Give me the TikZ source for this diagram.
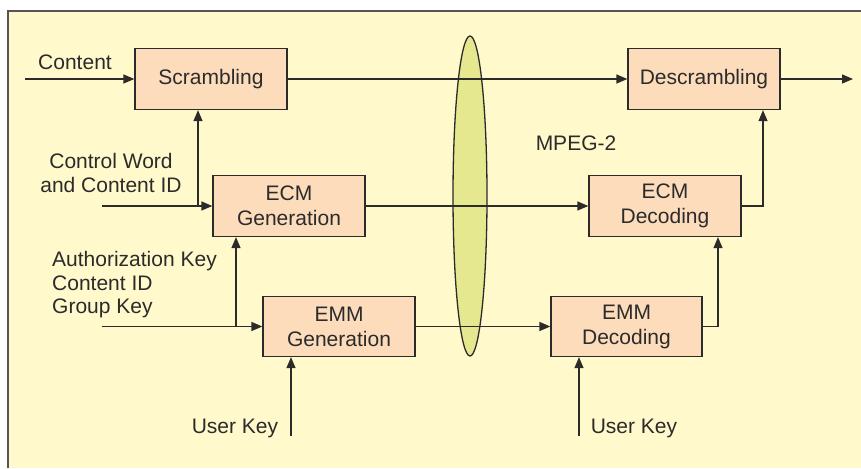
\documentclass[tikz,border=0pt]{standalone}
\usepackage{fontspec}
\setmainfont{Liberation Sans}
\usetikzlibrary{arrows.meta}
\definecolor{bgcol}{HTML}{FFF9CC}
\definecolor{boxcol}{HTML}{FDDCBC}
\definecolor{ellcol}{HTML}{E5E88E}
\definecolor{linecol}{HTML}{2B2B2B}
\definecolor{framecol}{HTML}{555555}
\tikzset{
  blockbox/.style={draw=linecol, line width=1.3pt, fill=boxcol, minimum width=152pt, minimum height=61pt, inner sep=0pt, align=center, font=\fontsize{21}{25}\selectfont, text=linecol},
  onebox/.style={blockbox, text height=15pt, text depth=4pt},
  lbl/.style={font=\fontsize{21}{23.5}\selectfont, text=linecol, inner sep=0pt},
  conn/.style={draw=linecol, line width=1.3pt},
  arr/.style={conn, -{Triangle[length=11pt,width=9pt]}},
}
\begin{document}
\begin{tikzpicture}[x=1pt,y=-1pt]
\useasboundingbox (0,0) rectangle (861,468);
\fill[white] (0,0) rectangle (861,468);
\fill[bgcol] (8,11) rectangle (861,468);
\draw[framecol, line width=2pt] (8,468) -- (8,11) -- (861,11);
% ellipse (MPEG-2 channel)
\draw[draw=linecol, line width=1.3pt, fill=ellcol] (470,196) ellipse [x radius=17, y radius=160];
% blocks
\node[onebox] (scr) at (211,79) {Scrambling};
\node[onebox] (des) at (704,79) {Descrambling};
\node[blockbox] (ecmg) at (289,206) {ECM\\Generation};
\node[blockbox] (ecmd) at (665,206) {ECM\\Decoding};
\node[blockbox, minimum height=60pt] (emmg) at (339,326.5) {EMM\\Generation};
\node[blockbox, minimum width=151pt, minimum height=60pt] (emmd) at (626.5,326.5) {EMM\\Decoding};
% labels
\node[lbl] (lcontent) at (75,62) {Content};
\node[lbl, align=center] (lcw) at (111,173) {Control Word\\and Content ID};
\node[lbl, align=left, anchor=west] (lak) at (52,285) {Authorization Key\\Content ID\\Group Key};
\node[lbl] (lmpeg) at (576,143) {MPEG-2};
\node[lbl] (luk1) at (235,428) {User Key};
\node[lbl] (luk2) at (634,428) {User Key};
% coordinates
\coordinate (cin) at (25,79);
\coordinate (cout) at (853,79);
\coordinate (cwin) at (102,206);
\coordinate (j1) at (198,206);
\coordinate (akin) at (102,326.5);
\coordinate (j2) at (236,326.5);
\coordinate (e1) at (763,206);
\coordinate (e2) at (718,326.5);
\coordinate (uk1) at (291,436);
\coordinate (uk2) at (579,436);
% connectors
\draw[arr] (cin) -- (scr.west);
\draw[arr] (scr.east) -- (des.west);
\draw[arr] (des.east) -- (cout);
\draw[arr] (cwin) -- (ecmg.west);
\draw[arr] (j1) -- (j1 |- scr.south);
\draw[arr] (ecmg.east) -- (ecmd.west);
\draw[arr] (ecmd.east) -- (e1) -- (e1 |- des.south);
\draw[arr] (akin) -- (emmg.west);
\draw[arr] (j2) -- (j2 |- ecmg.south);
\draw[arr] (emmg.east) -- (emmd.west);
\draw[arr] (emmd.east) -- (e2) -- (e2 |- ecmd.south);
\draw[arr] (uk1) -- (uk1 |- emmg.south);
\draw[arr] (uk2) -- (uk2 |- emmd.south);
\end{tikzpicture}
\end{document}
